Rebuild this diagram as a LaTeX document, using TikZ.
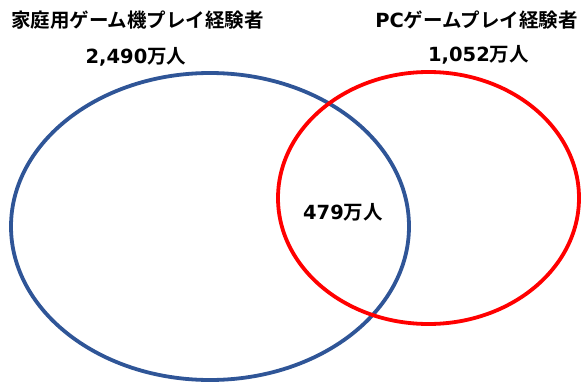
\documentclass[tikz,border=0pt]{standalone}
\usepackage{fontspec}
\setmainfont{Noto Sans CJK JP Bold}
\newfontfamily\lat{DejaVu Sans Bold}
\tikzset{
  lbl/.style={font=\fontsize{19.5}{22}\selectfont, inner sep=0pt, text=black},
  setA/.style={draw={rgb,255:red,47;green,85;blue,151}, line width=3.8pt},
  setB/.style={draw={rgb,255:red,255;green,0;blue,0}, line width=3.8pt},
}
\begin{document}
\begin{tikzpicture}[x=1pt,y=-1pt]
\useasboundingbox (0,0) rectangle (581,383);
\draw[setA] (210,226.5) ellipse [x radius=199, y radius=153.5];
\draw[setB] (428.5,198) ellipse [x radius=150.5, y radius=126];
\node[lbl] (t1) at (137.5,20) {家庭用ゲーム機プレイ経験者};
\node[lbl] (n1) at (136,57) {{\lat 2,490}万人};
\node[lbl] (t2) at (476.5,20) {{\lat PC}ゲームプレイ経験者};
\node[lbl] (n2) at (478.5,55) {{\lat 1,052}万人};
\node[lbl] (c) at (343,212) {{\lat 479}万人};
\end{tikzpicture}
\end{document}
